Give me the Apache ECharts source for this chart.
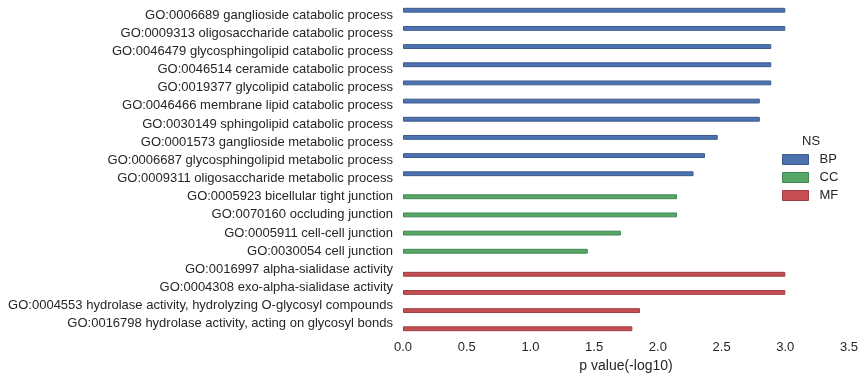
<!DOCTYPE html>
<html>
<head>
<meta charset="utf-8">
<script src="https://cdn.jsdelivr.net/npm/echarts@6/dist/echarts.min.js"></script>
<style>html,body{margin:0;padding:0;background:#fff}#c{width:865px;height:379px}</style>
</head>
<body>
<div id="c"></div>
<script>
const categories = [
  "GO:0006689 ganglioside catabolic process",
  "GO:0009313 oligosaccharide catabolic process",
  "GO:0046479 glycosphingolipid catabolic process",
  "GO:0046514 ceramide catabolic process",
  "GO:0019377 glycolipid catabolic process",
  "GO:0046466 membrane lipid catabolic process",
  "GO:0030149 sphingolipid catabolic process",
  "GO:0001573 ganglioside metabolic process",
  "GO:0006687 glycosphingolipid metabolic process",
  "GO:0009311 oligosaccharide metabolic process",
  "GO:0005923 bicellular tight junction",
  "GO:0070160 occluding junction",
  "GO:0005911 cell-cell junction",
  "GO:0030054 cell junction",
  "GO:0016997 alpha-sialidase activity",
  "GO:0004308 exo-alpha-sialidase activity",
  "GO:0004553 hydrolase activity, hydrolyzing O-glycosyl compounds",
  "GO:0016798 hydrolase activity, acting on glycosyl bonds"
];
const nsGroup = ["BP","BP","BP","BP","BP","BP","BP","BP","BP","BP","CC","CC","CC","CC","MF","MF","MF","MF"];
const pValues = [3.0, 3.0, 2.89, 2.89, 2.89, 2.80, 2.80, 2.47, 2.37, 2.28, 2.15, 2.15, 1.71, 1.45, 3.0, 3.0, 1.86, 1.80];
const groups = ["BP", "CC", "MF"];
const xTicks = [0, 0.5, 1.0, 1.5, 2.0, 2.5, 3.0, 3.5];

const colors = {BP: "#4C72B0", CC: "#55A868", MF: "#C44E52"};
const borders = {BP: "#3d5b8d", CC: "#448653", MF: "#9d3e42"};
const font = "'Liberation Sans', Arial, sans-serif";

const series = groups.map(g => ({
  name: g,
  type: "bar",
  data: pValues.map((v, i) => nsGroup[i] === g ? v : null),
  barGap: "0%",
  barCategoryGap: "20%",
  itemStyle: {color: colors[g], borderColor: borders[g], borderWidth: 1},
  emphasis: {disabled: true}
}));

const chart = echarts.init(document.getElementById("c"), null, {renderer: "canvas"});
chart.setOption({
  animation: false,
  backgroundColor: "#fff",
  textStyle: {fontFamily: font},
  grid: {left: 403, right: 16, top: 6, bottom: 46, containLabel: false},
  legend: {
    data: groups,
    orient: "vertical",
    left: 777,
    top: 148,
    itemWidth: 26,
    itemHeight: 10,
    itemGap: 5,
    textStyle: {fontSize: 13, color: "#262626", fontFamily: font, padding: [0, 0, 0, 6]},
    icon: "rect",
    itemStyle: {borderWidth: 1}
  },
  graphic: [{
    type: "text",
    left: 802,
    top: 135,
    style: {text: "NS", fontSize: 13, fill: "#262626", font: "13px " + font}
  }],
  xAxis: {
    type: "value",
    min: 0,
    max: 3.5,
    interval: 0.5,
    name: "p value(-log10)",
    nameLocation: "middle",
    nameGap: 24,
    nameTextStyle: {fontSize: 14, color: "#262626", fontFamily: font},
    axisLine: {show: false},
    axisTick: {show: false},
    splitLine: {show: false},
    axisLabel: {
      fontSize: 13, color: "#262626", margin: 8, fontFamily: font,
      formatter: v => v.toFixed(1)
    }
  },
  yAxis: {
    type: "category",
    data: categories,
    inverse: true,
    axisLine: {show: false},
    axisTick: {show: false},
    splitLine: {show: false},
    axisLabel: {fontSize: 13, color: "#262626", margin: 10, fontFamily: font}
  },
  series: series
});
</script>
</body>
</html>
